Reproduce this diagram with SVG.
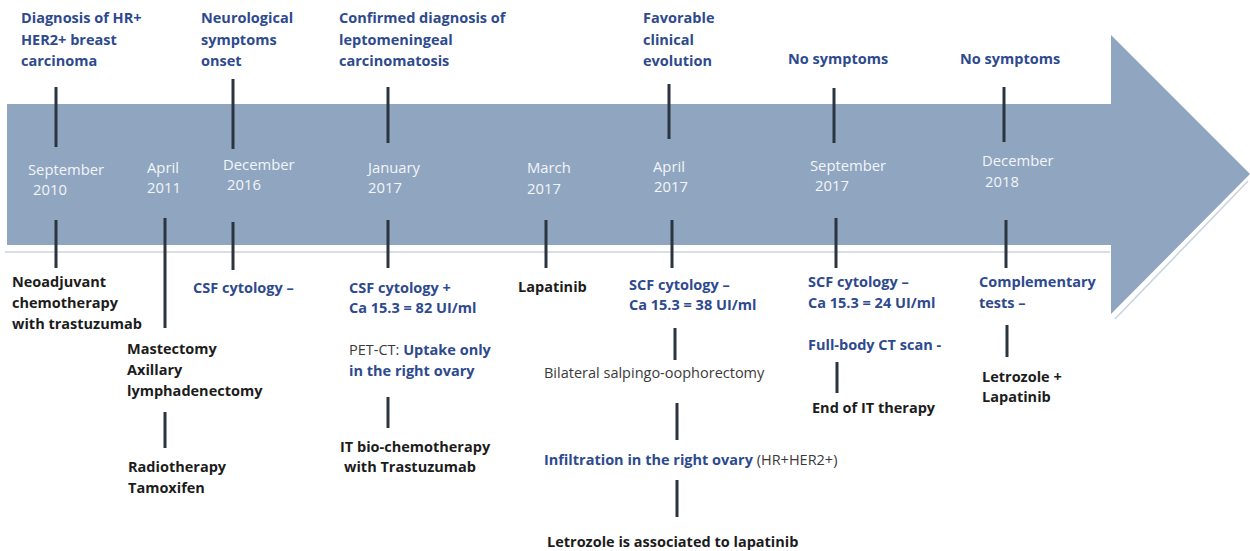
<svg xmlns="http://www.w3.org/2000/svg" width="1250" height="551" viewBox="0 0 1250 551">
<style>
text{font-family:"Open Sans","Liberation Sans",sans-serif;font-size:14.5px}
.b{font-weight:bold;fill:#2e4a8e}
.k{font-weight:bold;fill:#1c1c1c}
.r{fill:#3a3a3a}
.d{fill:#f3f6f9;font-size:14.8px}
.tick{stroke:#2b3540;stroke-width:3}
</style>
<rect width="1250" height="551" fill="#ffffff"/>
<g id="timeline-arrow">
<polygon points="7,104 1111,104 1111,35 1250,174 1111,314 1111,245 7,245" fill="#8fa5c0"/>
<line x1="5" y1="252" x2="1110" y2="252" stroke="#c8d3df" stroke-width="1.5"/>
<line x1="1248" y1="181" x2="1115" y2="319" stroke="#c8d3df" stroke-width="1.5"/>
</g>
<g id="connectors">
<line class="tick" x1="56" y1="87" x2="56" y2="147"/>
<line class="tick" x1="56" y1="220" x2="56" y2="268"/>
<line class="tick" x1="165" y1="218" x2="165" y2="328"/>
<line class="tick" x1="165" y1="412" x2="165" y2="448"/>
<line class="tick" x1="233" y1="79" x2="233" y2="149"/>
<line class="tick" x1="233" y1="222" x2="233" y2="270"/>
<line class="tick" x1="388" y1="87" x2="388" y2="143"/>
<line class="tick" x1="388" y1="220" x2="388" y2="268"/>
<line class="tick" x1="388" y1="397" x2="388" y2="428"/>
<line class="tick" x1="546" y1="220" x2="546" y2="268"/>
<line class="tick" x1="669" y1="84" x2="669" y2="139"/>
<line class="tick" x1="672" y1="220" x2="672" y2="268"/>
<line class="tick" x1="675" y1="328" x2="675" y2="360"/>
<line class="tick" x1="677" y1="403" x2="677" y2="440"/>
<line class="tick" x1="677" y1="480" x2="677" y2="517"/>
<line class="tick" x1="834" y1="88" x2="834" y2="143"/>
<line class="tick" x1="836" y1="218" x2="836" y2="268"/>
<line class="tick" x1="837" y1="362" x2="837" y2="393"/>
<line class="tick" x1="1004" y1="87" x2="1004" y2="142"/>
<line class="tick" x1="1006" y1="220" x2="1006" y2="268"/>
<line class="tick" x1="1007" y1="325" x2="1007" y2="357"/>
</g>
<g id="sep2010">
<text class="b" x="21" y="23">Diagnosis of HR+</text>
<text class="b" x="21" y="45">HER2+ breast</text>
<text class="b" x="21" y="66">carcinoma</text>
<text class="d" x="28" y="175">September</text>
<text class="d" x="33" y="195">2010</text>
<text class="k" x="12" y="287">Neoadjuvant</text>
<text class="k" x="12" y="308">chemotherapy</text>
<text class="k" x="12" y="329">with trastuzumab</text>
</g>
<g id="apr2011">
<text class="d" x="147" y="173">April</text>
<text class="d" x="147" y="193">2011</text>
<text class="k" x="127" y="354">Mastectomy</text>
<text class="k" x="127" y="375">Axillary</text>
<text class="k" x="127" y="396">lymphadenectomy</text>
<text class="k" x="128" y="472">Radiotherapy</text>
<text class="k" x="128" y="493">Tamoxifen</text>
</g>
<g id="dec2016">
<text class="b" x="201" y="23">Neurological</text>
<text class="b" x="201" y="45">symptoms</text>
<text class="b" x="201" y="66">onset</text>
<text class="d" x="223" y="170">December</text>
<text class="d" x="227" y="190">2016</text>
<text class="b" x="193" y="293">CSF cytology –</text>
</g>
<g id="jan2017">
<text class="b" x="339" y="23">Confirmed diagnosis of</text>
<text class="b" x="339" y="45">leptomeningeal</text>
<text class="b" x="339" y="66">carcinomatosis</text>
<text class="d" x="368" y="173">January</text>
<text class="d" x="368" y="193">2017</text>
<text class="b" x="349" y="293">CSF cytology +</text>
<text class="b" x="349" y="313">Ca 15.3 = 82 UI/ml</text>
<text x="349" y="355"><tspan class="r">PET-CT: </tspan><tspan class="b">Uptake only</tspan></text>
<text class="b" x="349" y="376">in the right ovary</text>
<text class="k" x="340" y="452">IT bio-chemotherapy</text>
<text class="k" x="344" y="472">with Trastuzumab</text>
</g>
<g id="mar2017">
<text class="d" x="527" y="173">March</text>
<text class="d" x="527" y="194">2017</text>
<text class="k" x="518" y="292">Lapatinib</text>
</g>
<g id="apr2017">
<text class="b" x="643" y="23">Favorable</text>
<text class="b" x="643" y="45">clinical</text>
<text class="b" x="643" y="66">evolution</text>
<text class="d" x="653" y="172">April</text>
<text class="d" x="654" y="192">2017</text>
<text class="b" x="629" y="290">SCF cytology –</text>
<text class="b" x="629" y="310">Ca 15.3 = 38 UI/ml</text>
<text class="r" x="544" y="378">Bilateral salpingo-oophorectomy</text>
<text x="544" y="465"><tspan class="b">Infiltration in the right ovary</tspan><tspan class="r"> (HR+HER2+)</tspan></text>
<text class="k" x="547" y="547">Letrozole is associated to lapatinib</text>
</g>
<g id="sep2017">
<text class="b" x="788" y="64">No symptoms</text>
<text class="d" x="810" y="171">September</text>
<text class="d" x="815" y="191">2017</text>
<text class="b" x="808" y="287">SCF cytology –</text>
<text class="b" x="808" y="308">Ca 15.3 = 24 UI/ml</text>
<text class="b" x="808" y="350">Full-body CT scan -</text>
<text class="k" x="812" y="413">End of IT therapy</text>
</g>
<g id="dec2018">
<text class="b" x="960" y="64">No symptoms</text>
<text class="d" x="982" y="166">December</text>
<text class="d" x="985" y="187">2018</text>
<text class="b" x="979" y="287">Complementary</text>
<text class="b" x="979" y="308">tests –</text>
<text class="k" x="982" y="382">Letrozole +</text>
<text class="k" x="982" y="402">Lapatinib</text>
</g>
</svg>
